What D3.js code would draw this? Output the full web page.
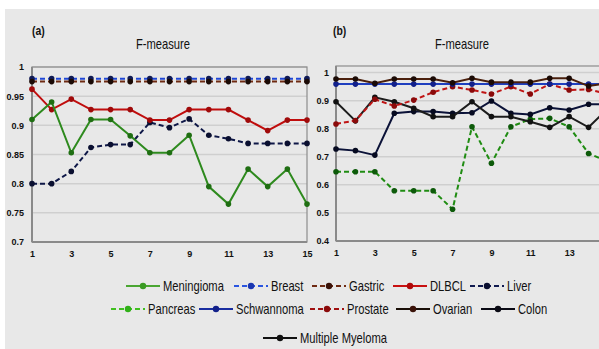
<!DOCTYPE html>
<html>
<head>
<meta charset="utf-8">
<script src="https://cdn.jsdelivr.net/npm/d3@7"></script>
<style>
  html, body { margin: 0; padding: 0; background: #ffffff; }
  svg { display: block; }
  text { font-family: "Liberation Sans", Arial, sans-serif; fill: #111; }
</style>
</head>
<body>
<svg id="chart" width="599" height="349"></svg>
<script>
// Feature-count steps on the x axis
const steps = d3.range(1, 16);
const xTickLabels = [1, 3, 5, 7, 9, 11, 13, 15];

// Panel (a) series
const meningioma = [0.910, 0.940, 0.853, 0.910, 0.910, 0.882, 0.853, 0.853, 0.883, 0.795, 0.765, 0.825, 0.795, 0.825, 0.765];
const breast     = [0.980, 0.980, 0.980, 0.980, 0.980, 0.980, 0.980, 0.980, 0.980, 0.980, 0.980, 0.980, 0.980, 0.980, 0.980];
const gastric    = [0.975, 0.975, 0.975, 0.975, 0.975, 0.975, 0.975, 0.975, 0.975, 0.975, 0.975, 0.975, 0.975, 0.975, 0.975];
const dlbcl      = [0.962, 0.927, 0.945, 0.927, 0.927, 0.927, 0.909, 0.909, 0.927, 0.927, 0.927, 0.909, 0.891, 0.909, 0.909];
const liver      = [0.800, 0.800, 0.821, 0.862, 0.867, 0.867, 0.905, 0.896, 0.911, 0.883, 0.877, 0.869, 0.869, 0.869, 0.869];

// Panel (b) series
const pancreas   = [0.647, 0.647, 0.647, 0.579, 0.579, 0.579, 0.513, 0.807, 0.677, 0.807, 0.834, 0.837, 0.807, 0.712, 0.682];
const schwannoma = [0.959, 0.959, 0.959, 0.959, 0.959, 0.959, 0.959, 0.959, 0.959, 0.959, 0.959, 0.959, 0.959, 0.959, 0.959];
const prostate   = [0.817, 0.829, 0.905, 0.881, 0.902, 0.930, 0.950, 0.938, 0.924, 0.950, 0.924, 0.959, 0.938, 0.940, 0.924];
const ovarian    = [0.977, 0.977, 0.962, 0.977, 0.977, 0.977, 0.964, 0.980, 0.966, 0.966, 0.966, 0.980, 0.980, 0.952, 0.962];
const colon      = [0.728, 0.722, 0.706, 0.855, 0.861, 0.861, 0.855, 0.857, 0.899, 0.855, 0.851, 0.875, 0.867, 0.887, 0.887];
const myeloma    = [0.896, 0.828, 0.912, 0.896, 0.873, 0.843, 0.843, 0.896, 0.843, 0.843, 0.825, 0.805, 0.843, 0.805, 0.873];

const yTicksA = [0.7, 0.75, 0.8, 0.85, 0.9, 0.95, 1];
const yTicksB = [0.4, 0.5, 0.6, 0.7, 0.8, 0.9, 1];

const seriesA = [
  { name: "Breast",     values: breast,     color: "#1f47d6", marker: "#101a55", dash: "5,3" },
  { name: "Gastric",    values: gastric,    color: "#6e2a12", marker: "#1a0a05", dash: "5,3" },
  { name: "Liver",      values: liver,      color: "#0e1747", marker: "#0a0f30", dash: "5,3" },
  { name: "DLBCL",      values: dlbcl,      color: "#c00d0d", marker: "#a00a0a", dash: null },
  { name: "Meningioma", values: meningioma, color: "#2e8a1e", marker: "#1f6e12", dash: null }
];
const seriesB = [
  { name: "Pancreas",         values: pancreas,   color: "#1f8c12", marker: "#0d5a0a", dash: "5,3" },
  { name: "Colon",            values: colon,      color: "#0b1238", marker: "#060a20", dash: null },
  { name: "Multiple Myeloma", values: myeloma,    color: "#1c1c1c", marker: "#111111", dash: null },
  { name: "Prostate",         values: prostate,   color: "#c01515", marker: "#8a0a0a", dash: "5,3" },
  { name: "Schwannoma",       values: schwannoma, color: "#1f3fbf", marker: "#12208a", dash: null },
  { name: "Ovarian",          values: ovarian,    color: "#4a1f0c", marker: "#1a0a05", dash: null }
];

// Legend rows: [name, line colour, marker colour, dash]
const legendRows = [
  [["Meningioma", "#4aa632", "#3a9a22", null], ["Breast", "#2a55e0", "#1a36b0", "5,3"], ["Gastric", "#6e2a12", "#3a1208", "5,3"], ["DLBCL", "#c81010", "#b00808", null], ["Liver", "#101a50", "#0a0f30", "5,3"]],
  [["Pancreas", "#40c020", "#30b018", "5,3"], ["Schwannoma", "#1a2ea0", "#12208a", null], ["Prostate", "#a01010", "#8a0a0a", "5,3"], ["Ovarian", "#1a0f08", "#3a1208", null], ["Colon", "#0a0a14", "#0a0a14", null]],
  [["Multiple Myeloma", "#111111", "#111111", null]]
];
const legendX = [
  [126, 234, 312, 393, 470],
  [111, 199, 310, 396, 481],
  [263]
];
const legendY = [286, 309, 338];

// horizontal squeeze giving a condensed look to the text
const SQUEEZE = 0.8;

const svg = d3.select("#chart");

// Grey chart area
svg.append("rect").attr("x", 5).attr("y", 9).attr("width", 594).attr("height", 340).attr("fill", "#e8e8e8");

function narrowText(parent, x, y, str, size, anchor, weight) {
  return parent.append("text")
    .attr("transform", `translate(${x},${y}) scale(${SQUEEZE},1)`)
    .attr("font-size", size).attr("font-weight", weight || "normal")
    .attr("text-anchor", anchor || "start").text(str);
}

function panel(opts) {
  const g = svg.append("g");
  const x = d3.scaleLinear().domain([1, 15]).range([opts.left, opts.right]);
  const y = d3.scaleLinear().domain(opts.domain).range([opts.bottom, opts.top]);

  // gridlines
  g.selectAll("line.grid").data(opts.yTicks).join("line")
    .attr("x1", opts.left).attr("x2", opts.right)
    .attr("y1", d => y(d)).attr("y2", d => y(d))
    .attr("stroke", "#cfcfcf").attr("stroke-width", 1.5);

  // frame
  g.append("rect").attr("x", opts.left).attr("y", opts.frameTop)
    .attr("width", opts.right - opts.left).attr("height", opts.bottom - opts.frameTop)
    .attr("fill", "none").attr("stroke", "#8c8c8c").attr("stroke-width", 1.2);
  g.append("line").attr("x1", opts.left).attr("x2", opts.left).attr("y1", opts.frameTop).attr("y2", opts.bottom)
    .attr("stroke", "#8a8a8a").attr("stroke-width", 2);
  g.append("line").attr("x1", opts.left).attr("x2", opts.right).attr("y1", opts.bottom).attr("y2", opts.bottom)
    .attr("stroke", "#8a8a8a").attr("stroke-width", 2);

  // y axis labels
  const yAxis = d3.axisLeft(y).tickValues(opts.yTicks).tickSize(0).tickPadding(opts.yPad).tickFormat(d3.format("~g"));
  const ya = g.append("g").attr("transform", `translate(${opts.left},0)`).call(yAxis);
  ya.select(".domain").remove();
  ya.selectAll("text").attr("font-size", 9).attr("font-weight", "bold").attr("fill", "#111")
    .style("font-family", "'Liberation Sans', sans-serif");

  // x axis labels
  const xAxis = d3.axisBottom(x).tickValues(xTickLabels).tickSize(0).tickPadding(9).tickFormat(d3.format("d"));
  const xa = g.append("g").attr("transform", `translate(0,${opts.bottom})`).call(xAxis);
  xa.select(".domain").remove();
  xa.selectAll("text").attr("font-size", 9).attr("font-weight", "bold").attr("fill", "#111")
    .style("font-family", "'Liberation Sans', sans-serif");

  // titles
  narrowText(g, opts.tagX, 35, opts.tag, 13, "start", "bold");
  narrowText(g, opts.titleX, 49, "F-measure", 14, "middle");

  // series
  const line = d3.line().x((d, i) => x(steps[i])).y(d => y(d));
  opts.series.forEach(s => {
    g.append("path").datum(s.values).attr("d", line)
      .attr("fill", "none").attr("stroke", s.color).attr("stroke-width", 2)
      .attr("stroke-dasharray", s.dash);
    g.selectAll(null).data(s.values).join("circle")
      .attr("cx", (d, i) => x(steps[i])).attr("cy", d => y(d)).attr("r", 2.8)
      .attr("fill", s.marker);
  });
}

panel({
  left: 32, right: 307, top: 67, bottom: 242, frameTop: 67,
  domain: [0.7, 1], yTicks: yTicksA, yPad: 8,
  tag: "(a)", tagX: 32, titleX: 163, series: seriesA
});
panel({
  left: 336, right: 608, top: 72.6, bottom: 241, frameTop: 66,
  domain: [0.4, 1], yTicks: yTicksB, yPad: 7,
  tag: "(b)", tagX: 333, titleX: 462, series: seriesB
});

// Legend
legendRows.forEach((row, r) => {
  row.forEach((item, k) => {
    const [name, col, mk, dash] = item;
    const x0 = legendX[r][k];
    const yy = legendY[r];
    const lg = svg.append("g");
    lg.append("line").attr("x1", x0).attr("x2", x0 + 34).attr("y1", yy).attr("y2", yy)
      .attr("stroke", col).attr("stroke-width", 2).attr("stroke-dasharray", dash);
    lg.append("circle").attr("cx", x0 + 17).attr("cy", yy).attr("r", 3.2).attr("fill", mk);
    narrowText(lg, x0 + 37, yy + 5, name, 14, "start");
  });
});
</script>
</body>
</html>
